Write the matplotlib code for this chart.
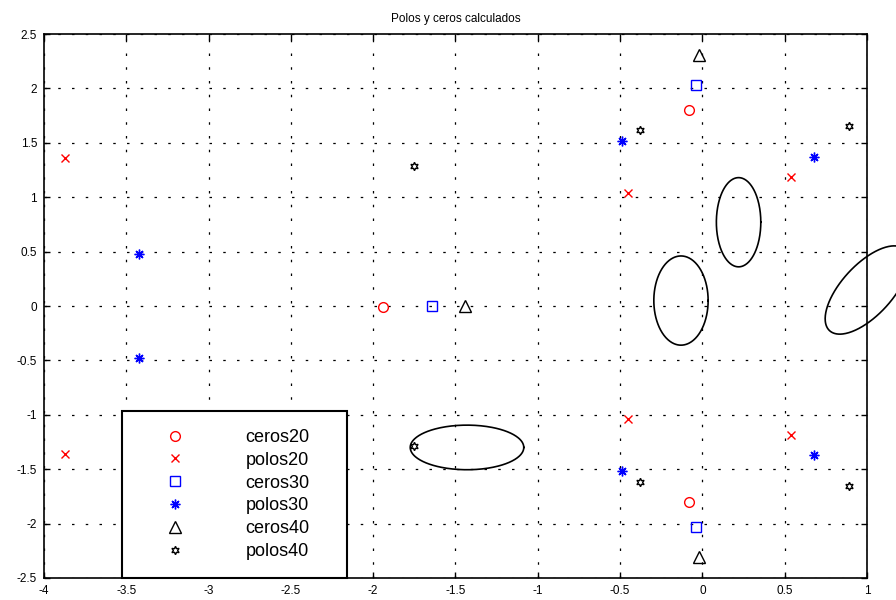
import numpy as np
from matplotlib import pyplot as plt

plt.rcParams['font.family'] = ['Liberation Sans', 'DejaVu Sans']

# ceros / polos (real, imag)
ceros20_re = [-1.94, -0.08, -0.08]
ceros20_im = [-0.01, 1.80, -1.80]
polos20_re = [-3.87, -3.87, -0.45, -0.45, 0.54, 0.54]
polos20_im = [1.36, -1.36, 1.04, -1.04, 1.19, -1.19]
ceros30_re = [-1.64, -0.04, -0.04]
ceros30_im = [0.0, 2.03, -2.03]
polos30_re = [-3.42, -3.42, -0.49, -0.49, 0.68, 0.68]
polos30_im = [0.48, -0.48, 1.52, -1.52, 1.37, -1.37]
ceros40_re = [-1.44, -0.02, -0.02]
ceros40_im = [0.0, 2.31, -2.31]
polos40_re = [-1.75, -1.75, -0.38, -0.38, 0.89, 0.89]
polos40_im = [1.29, -1.29, 1.62, -1.62, 1.65, -1.65]

# ellipses: center x, center y, half axis 1 (dx, dy), half axis 2 (dx, dy)
ell_cx = [-1.43, -0.13, 0.22, 1.0]
ell_cy = [-1.30, 0.05, 0.77, 0.147]
ell_a = [(0.345, 0.0), (0.165, 0.0), (0.135, 0.0), (0.254, 0.264)]
ell_b = [(0.0, 0.205), (0.0, 0.41), (0.0, 0.41), (0.0, 0.308)]

fig = plt.figure(figsize=(8.96, 6), dpi=100)
ax = fig.add_axes([0.0491, 0.0367, 0.9185, 0.9066])

ax.plot(ceros20_re, ceros20_im, 'o', color='red', mfc='none', ms=7, mew=1.0, label='ceros20')
ax.plot(polos20_re, polos20_im, 'x', color='red', ms=5.5, mew=1.0, label='polos20')
ax.plot(ceros30_re, ceros30_im, 's', color='blue', mfc='none', ms=7, mew=1.0, label='ceros30')
ax.plot(polos30_re, polos30_im, marker=(8, 2, 0), ls='none', color='blue', ms=7, mew=1.0, label='polos30')
ax.plot(ceros40_re, ceros40_im, '^', color='black', mfc='none', ms=8, mew=1.0, label='ceros40')
ax.plot(polos40_re, polos40_im, marker=(6, 1, 0), ls='none', color='black', mfc='none', ms=6, mew=1.0, label='polos40')

t = np.linspace(0, 2*np.pi, 300)
for cx, cy, a, b in zip(ell_cx, ell_cy, ell_a, ell_b):
    ex = cx + a[0]*np.cos(t) + b[0]*np.sin(t)
    ey = cy + a[1]*np.cos(t) + b[1]*np.sin(t)
    ax.plot(ex, ey, color='black', lw=1.2, clip_on=False)

ax.set_xlim(-4, 1)
ax.set_ylim(-2.5, 2.5)
ax.set_xticks(np.arange(-4, 1.01, 0.5))
ax.set_yticks(np.arange(-2.5, 2.51, 0.5))
ax.set_xticklabels(['-4', '-3.5', '-3', '-2.5', '-2', '-1.5', '-1', '-0.5', '0', '0.5', '1'])
ax.set_yticklabels(['-2.5', '-2', '-1.5', '-1', '-0.5', '0', '0.5', '1', '1.5', '2', '2.5'])
ax.grid(True, color='black', ls=(0, (2, 9)), lw=0.9)
ax.tick_params(direction='in', top=True, right=True, length=4, width=1, labelsize=8.5, pad=5)
for s in ax.spines.values():
    s.set_linewidth(1.2)
ax.set_title('Polos y ceros calculados', fontsize=8.5, pad=9)

leg = ax.legend(loc='lower left', bbox_to_anchor=(0.0948, 0.0, 0.2734, 0.3), mode='expand',
                fontsize=13, handletextpad=1.93, handlelength=3.9, borderpad=1.0, labelspacing=0.32,
                fancybox=False, framealpha=1, edgecolor='black', borderaxespad=0)
leg.get_frame().set_linewidth(1.5)

plt.savefig('out.png')
